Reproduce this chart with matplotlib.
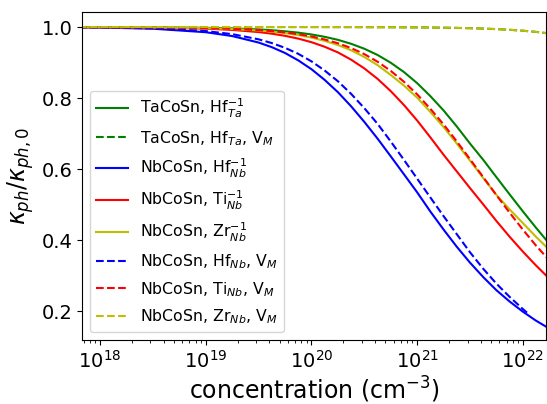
import matplotlib
matplotlib.use("Agg")
import matplotlib.pyplot as plt

# concentration grid (cm^-3)
conc = [6.3e17, 1e18, 3.16e18, 1e19, 1.78e19, 3.16e19, 4.22e19, 5.62e19,
        7.50e19, 1e20, 1.33e20, 1.78e20, 2.37e20, 3.16e20, 4.22e20, 5.62e20,
        7.50e20, 1e21, 1.33e21, 1.78e21, 2.37e21, 3.16e21, 4.22e21, 5.62e21,
        7.50e21, 1e22, 1.33e22, 1.78e22]
# the blue dashed curve stops a little earlier
conc_hf_vm = [6.3e17, 1e18, 3.16e18, 1e19, 1.78e19, 3.16e19, 4.22e19, 5.62e19,
              7.50e19, 1e20, 1.33e20, 1.78e20, 2.37e20, 3.16e20, 4.22e20, 5.62e20,
              7.50e20, 1e21, 1.33e21, 1.78e21, 2.37e21, 3.16e21, 4.22e21, 5.62e21,
              7.50e21, 1e22, 1.15e22]

# kappa_ph / kappa_ph,0
ta_hf = [0.9999, 0.9998, 0.9993, 0.9978, 0.9962, 0.9932, 0.9910, 0.9880,
         0.9842, 0.9791, 0.9725, 0.9639, 0.9528, 0.9389, 0.9213, 0.8994,
         0.8731, 0.8418, 0.8056, 0.7647, 0.7198, 0.6717, 0.6257, 0.5769,
         0.5283, 0.4806, 0.4347, 0.3896]
ta_hf_vm = [1.0, 1.0, 1.0, 1.0, 0.99998, 0.99997, 0.99996, 0.99994,
            0.99992, 0.9999, 0.99987, 0.99982, 0.99975, 0.99967, 0.99956, 0.99941,
            0.99922, 0.99895, 0.9986, 0.99813, 0.99752, 0.99669, 0.99559, 0.99414,
            0.99221, 0.98966, 0.98629, 0.98186]
nb_hf = [0.999, 0.9985, 0.9953, 0.9854, 0.9746, 0.9563, 0.9432, 0.9269,
         0.9061, 0.8812, 0.8513, 0.8164, 0.7768, 0.7329, 0.6856, 0.6359,
         0.5851, 0.5343, 0.4806, 0.4292, 0.3810, 0.3363, 0.2955, 0.2586,
         0.2267, 0.1982, 0.1729, 0.1505]
nb_ti = [0.9997, 0.9995, 0.9984, 0.9954, 0.9919, 0.9858, 0.9812, 0.9752,
         0.9674, 0.9573, 0.9445, 0.9285, 0.9081, 0.8835, 0.8540, 0.8195,
         0.7802, 0.7366, 0.6895, 0.6399, 0.5932, 0.5463, 0.5002, 0.4535,
         0.4091, 0.3673, 0.3284, 0.2911]
nb_zr = [0.9998, 0.9997, 0.9990, 0.9969, 0.9945, 0.9903, 0.9871, 0.9829,
         0.9775, 0.9703, 0.9611, 0.9493, 0.9346, 0.9157, 0.8927, 0.8650,
         0.8350, 0.8009, 0.7612, 0.7179, 0.6717, 0.6237, 0.5745, 0.5270,
         0.4860, 0.4477, 0.4091, 0.3724]
nb_hf_vm = [0.9992, 0.9990, 0.9963, 0.9886, 0.9800, 0.9654, 0.9548, 0.9414,
            0.9245, 0.9033, 0.8777, 0.8472, 0.8118, 0.7716, 0.7273, 0.6777,
            0.6257, 0.5728, 0.5202, 0.4670, 0.4164, 0.3655, 0.3189, 0.2770,
            0.2397, 0.2056, 0.1899]
nb_ti_vm = [0.9998, 0.9997, 0.9991, 0.9972, 0.9951, 0.9913, 0.9884, 0.9847,
            0.9798, 0.9734, 0.9650, 0.9543, 0.9408, 0.9237, 0.9023, 0.8765,
            0.8458, 0.8102, 0.7699, 0.7254, 0.6777, 0.6278, 0.5769, 0.5263,
            0.4767, 0.4292, 0.3844, 0.3427]
nb_zr_vm = [1.0, 1.0, 1.0, 1.0, 0.99998, 0.99997, 0.99996, 0.99994,
            0.99992, 0.9999, 0.99987, 0.99982, 0.99975, 0.99967, 0.99956, 0.99941,
            0.99922, 0.99895, 0.9986, 0.99813, 0.99752, 0.99669, 0.99559, 0.99414,
            0.99221, 0.98962, 0.98620, 0.98170]

labels = [
    "TaCoSn, Hf$_{Ta}^{-1}$",
    "TaCoSn, Hf$_{Ta}$, V$_M$",
    "NbCoSn, Hf$_{Nb}^{-1}$",
    "NbCoSn, Ti$_{Nb}^{-1}$",
    "NbCoSn, Zr$_{Nb}^{-1}$",
    "NbCoSn, Hf$_{Nb}$, V$_M$",
    "NbCoSn, Ti$_{Nb}$, V$_M$",
    "NbCoSn, Zr$_{Nb}$, V$_M$",
]

fig = plt.figure(figsize=(5.47, 4.04), dpi=100)
ax = fig.add_axes([0.150, 0.158, 0.848, 0.812])

ax.plot(conc, ta_hf, "g-", lw=1.5, label=labels[0])
ax.plot(conc, ta_hf_vm, "g--", lw=1.5, label=labels[1])
ax.plot(conc, nb_hf, "b-", lw=1.5, label=labels[2])
ax.plot(conc, nb_ti, "r-", lw=1.5, label=labels[3])
ax.plot(conc, nb_zr, "y-", lw=1.5, label=labels[4])
ax.plot(conc_hf_vm, nb_hf_vm, "b--", lw=1.5, label=labels[5])
ax.plot(conc, nb_ti_vm, "r--", lw=1.5, label=labels[6])
ax.plot(conc, nb_zr_vm, "y--", lw=1.5, label=labels[7])

ax.set_xscale("log")
ax.set_xlim(6.76e17, 1.65e22)
ax.set_ylim(0.118, 1.042)
ax.set_yticks([0.2, 0.4, 0.6, 0.8, 1.0])
ax.tick_params(axis="both", which="major", labelsize=14)

ax.set_xlabel("concentration (cm$^{-3}$)", fontsize=17, labelpad=2)
ax.set_ylabel(r"$\kappa_{ph}/\kappa_{ph,0}$", fontsize=17)

ax.legend(loc="lower left", fontsize=11.3, labelspacing=0.56)

fig.savefig("out.png", dpi=100)
